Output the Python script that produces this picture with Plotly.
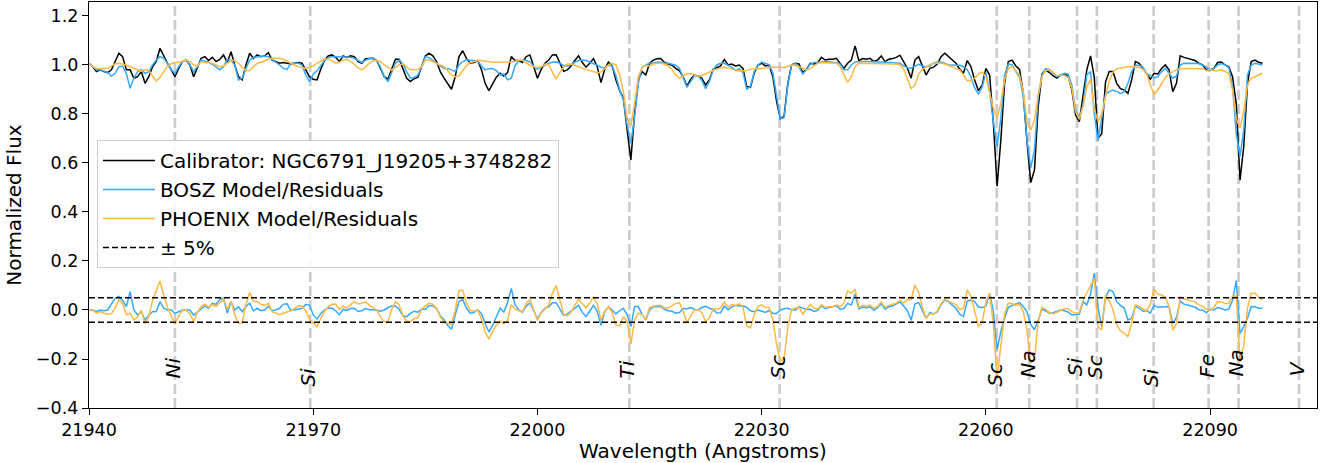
import numpy as np
import plotly.graph_objects as go

# ---------------- data ----------------
WAVE_START = 21940.0   # Angstrom, first sample
WAVE_STEP = 0.5        # Angstrom per sample

calibrator = [
    1.007, 0.993, 0.973, 0.980, 0.973, 0.969, 0.980, 1.014, 1.048, 1.034,
    0.980, 0.980, 0.946, 0.952, 0.973, 0.925, 0.952, 0.993, 1.014, 1.068,
    1.034, 1.007, 0.980, 0.952, 0.986, 1.014, 1.020, 1.000, 0.952, 0.986,
    1.027, 1.034, 1.018, 1.031, 1.014, 1.023, 1.041, 1.010, 1.054, 1.000,
    0.952, 0.939, 1.000, 1.048, 1.027, 1.041, 1.034, 1.037, 1.050, 1.020,
    1.014, 1.007, 1.010, 1.007, 1.004, 1.007, 1.010, 1.007, 0.982, 0.952,
    0.942, 0.939, 0.982, 1.018, 1.037, 1.041, 1.031, 1.014, 1.037, 1.031,
    1.037, 1.034, 1.014, 1.007, 1.025, 1.027, 1.027, 1.018, 0.986, 0.952,
    0.942, 0.982, 1.023, 1.023, 0.980, 0.946, 0.932, 0.944, 0.950, 0.996,
    1.037, 1.048, 1.037, 1.014, 0.973, 0.946, 0.923, 0.901, 0.952, 1.034,
    1.058, 1.027, 1.007, 1.010, 1.018, 0.982, 0.925, 0.895, 0.923, 0.950,
    0.966, 0.955, 0.969, 1.034, 1.018, 1.018, 1.010, 1.034, 1.041, 0.993,
    0.946, 0.982, 1.007, 1.020, 1.041, 1.042, 1.010, 0.974, 0.980, 0.996,
    1.018, 1.037, 1.010, 0.991, 1.007, 1.026, 0.993, 0.928, 0.982, 1.012,
    0.996, 0.939, 0.895, 0.864, 0.735, 0.612, 0.803, 0.939, 0.973, 0.959,
    1.007, 1.020, 1.025, 1.026, 1.010, 1.004, 0.999, 0.986, 0.976, 0.952,
    0.914, 0.942, 0.959, 0.955, 0.946, 0.918, 0.939, 0.982, 0.988, 0.996,
    1.023, 1.000, 1.004, 0.996, 1.000, 0.986, 0.912, 0.909, 0.966, 1.000,
    1.007, 0.996, 0.999, 0.952, 0.850, 0.780, 0.790, 0.925, 1.001, 1.007,
    1.004, 0.969, 0.982, 1.007, 1.004, 1.010, 1.031, 1.020, 1.023, 1.023,
    1.027, 1.007, 0.986, 1.007, 1.020, 1.078, 1.018, 1.026, 1.023, 1.027,
    1.014, 1.020, 1.037, 1.014, 1.023, 1.026, 1.031, 1.040, 1.012, 0.986,
    0.946, 1.020, 1.034, 0.993, 0.959, 0.986, 0.991, 1.004, 1.034, 1.048,
    1.034, 1.020, 1.007, 0.982, 0.966, 1.018, 0.993, 0.939, 0.895, 0.918,
    0.986, 0.959, 0.762, 0.505, 0.694, 0.925, 1.014, 1.020, 0.996, 0.982,
    0.885, 0.687, 0.520, 0.572, 0.830, 0.963, 0.980, 0.969, 0.955, 0.946,
    0.959, 0.963, 0.955, 0.898, 0.796, 0.769, 0.871, 0.980, 1.037, 0.950,
    0.700, 0.720, 0.930, 0.973, 0.973, 0.925, 0.903, 0.898, 0.884, 0.939,
    1.014, 1.007, 0.986, 0.963, 0.942, 0.966, 0.963, 0.986, 1.000, 0.980,
    0.891, 0.925, 1.037, 1.031, 1.027, 1.024, 1.018, 1.007, 1.000, 0.980,
    0.980, 0.986, 1.010, 1.012, 1.000, 0.993, 0.952, 0.840, 0.530, 0.667,
    0.925, 1.014, 1.020, 1.011, 1.007,
]

bosz_model = [
    1.007, 0.993, 0.980, 0.980, 0.976, 0.969, 0.955, 0.966, 0.993, 0.995,
    0.966, 0.905, 0.946, 0.973, 0.980, 0.966, 0.973, 1.000, 1.020, 1.034,
    1.027, 1.007, 0.980, 0.966, 0.993, 1.014, 1.020, 1.000, 0.973, 0.993,
    1.020, 1.017, 1.011, 1.003, 0.991, 0.980, 0.993, 1.023, 1.020, 1.000,
    0.939, 0.946, 0.986, 1.020, 1.031, 1.034, 1.037, 1.037, 1.034, 1.023,
    1.014, 1.000, 0.986, 0.982, 1.007, 1.007, 1.007, 1.000, 0.959, 0.932,
    0.962, 0.976, 0.997, 1.018, 1.029, 1.034, 1.034, 1.034, 1.034, 1.033,
    1.031, 1.027, 1.020, 1.010, 1.019, 1.026, 1.026, 1.018, 0.991, 0.952,
    0.932, 0.966, 1.007, 1.020, 1.004, 0.973, 0.946, 0.949, 0.959, 0.993,
    1.034, 1.030, 1.020, 1.007, 0.996, 0.986, 0.986, 0.980, 0.973, 1.000,
    1.014, 1.020, 1.020, 1.020, 1.017, 0.996, 0.980, 0.985, 0.986, 0.977,
    0.959, 0.963, 0.939, 0.946, 0.996, 1.018, 1.020, 1.018, 1.012, 0.996,
    0.982, 0.991, 1.000, 1.007, 1.011, 1.012, 1.007, 0.996, 0.996, 1.001,
    1.011, 1.018, 1.020, 1.018, 1.012, 1.007, 0.999, 0.991, 0.988, 0.999,
    0.996, 0.955, 0.898, 0.857, 0.755, 0.680, 0.789, 0.925, 0.991, 1.000,
    1.007, 1.007, 1.012, 1.011, 1.007, 1.007, 1.004, 0.999, 0.986, 0.946,
    0.909, 0.932, 0.956, 0.955, 0.936, 0.903, 0.932, 0.980, 1.000, 1.007,
    1.007, 0.999, 0.991, 0.977, 0.984, 0.969, 0.901, 0.912, 0.973, 1.000,
    1.012, 1.006, 1.001, 0.966, 0.864, 0.780, 0.785, 0.918, 1.000, 1.007,
    0.991, 0.963, 0.980, 1.004, 1.010, 1.011, 1.014, 1.014, 1.014, 1.011,
    1.010, 1.004, 0.980, 0.980, 1.000, 1.012, 1.014, 1.014, 1.014, 1.014,
    1.014, 1.011, 1.011, 1.011, 1.010, 1.010, 1.008, 1.007, 0.996, 0.989,
    0.988, 0.996, 1.003, 0.996, 0.993, 0.996, 1.007, 1.012, 1.012, 1.007,
    1.000, 1.000, 1.000, 0.999, 0.993, 0.982, 0.952, 0.905, 0.882, 0.909,
    0.970, 0.891, 0.769, 0.667, 0.782, 0.959, 1.004, 1.001, 0.973, 0.952,
    0.871, 0.694, 0.580, 0.653, 0.871, 0.959, 0.984, 0.982, 0.966, 0.952,
    0.959, 0.966, 0.963, 0.918, 0.816, 0.786, 0.837, 0.959, 0.973, 0.800,
    0.690, 0.790, 0.880, 0.891, 0.898, 0.891, 0.884, 0.890, 0.925, 0.973,
    0.999, 0.999, 0.991, 0.966, 0.955, 0.947, 0.952, 0.973, 0.986, 0.966,
    0.946, 0.955, 1.000, 1.007, 1.007, 1.007, 1.007, 1.006, 1.000, 0.991,
    0.977, 0.986, 1.000, 1.006, 1.000, 0.989, 0.912, 0.720, 0.626, 0.735,
    0.959, 1.000, 1.007, 1.004, 1.000,
]

phoenix_model = [
    1.007, 0.993, 0.986, 0.986, 0.986, 0.986, 0.995, 1.005, 1.007, 1.005,
    1.000, 0.993, 0.986, 0.980, 0.975, 0.980, 0.978, 0.955, 0.935, 0.950,
    0.975, 0.995, 1.005, 1.010, 1.010, 1.015, 1.020, 1.015, 1.000, 0.995,
    1.014, 1.010, 1.007, 1.007, 1.000, 0.993, 0.996, 1.007, 1.018, 1.018,
    1.007, 0.991, 0.977, 0.977, 0.991, 1.007, 1.011, 1.018, 1.023, 1.027,
    1.027, 1.026, 1.023, 1.014, 1.007, 1.000, 0.993, 0.991, 0.986, 0.991,
    0.996, 1.007, 1.016, 1.024, 1.024, 1.018, 1.007, 1.011, 1.020, 1.023,
    1.015, 1.000, 0.989, 0.980, 0.991, 1.007, 1.016, 1.019, 1.014, 1.000,
    0.989, 0.980, 0.989, 1.001, 1.004, 0.991, 0.980, 0.980, 0.982, 0.993,
    1.020, 1.020, 1.014, 1.007, 1.001, 0.993, 0.977, 0.959, 0.952, 0.955,
    0.977, 0.997, 1.009, 1.015, 1.018, 1.018, 1.015, 1.014, 1.011, 1.011,
    1.011, 1.011, 1.011, 1.012, 1.015, 1.020, 1.018, 1.007, 0.999, 0.993,
    0.989, 0.993, 1.004, 1.001, 0.973, 0.942, 0.969, 0.991, 1.004, 1.004,
    0.999, 0.993, 0.985, 0.981, 0.978, 0.973, 0.967, 0.971, 0.986, 1.000,
    1.007, 1.001, 0.959, 0.891, 0.782, 0.751, 0.844, 0.952, 0.991, 0.999,
    0.996, 1.004, 1.007, 1.007, 1.003, 0.996, 0.982, 0.959, 0.946, 0.957,
    0.965, 0.965, 0.959, 0.954, 0.957, 0.965, 0.971, 0.978, 0.984, 0.988,
    0.991, 0.988, 0.982, 0.978, 0.974, 0.974, 0.977, 0.982, 0.985, 0.986,
    0.986, 0.986, 0.989, 0.992, 0.991, 0.988, 0.989, 0.995, 1.000, 0.999,
    0.993, 0.986, 0.981, 0.984, 0.996, 1.007, 1.010, 1.010, 1.010, 1.010,
    1.007, 0.993, 0.959, 0.929, 0.952, 0.993, 1.007, 1.007, 1.007, 1.007,
    1.007, 1.006, 1.004, 1.004, 1.004, 1.004, 1.003, 1.001, 0.984, 0.942,
    0.903, 0.918, 0.963, 0.982, 0.993, 1.001, 1.007, 1.008, 1.008, 1.004,
    0.999, 0.992, 0.984, 0.980, 0.959, 0.936, 0.936, 0.946, 0.962, 0.971,
    0.952, 0.891, 0.823, 0.782, 0.844, 0.939, 0.986, 0.993, 0.977, 0.959,
    0.891, 0.769, 0.735, 0.776, 0.878, 0.952, 0.977, 0.980, 0.971, 0.955,
    0.958, 0.958, 0.950, 0.905, 0.810, 0.778, 0.830, 0.912, 0.939, 0.820,
    0.770, 0.800, 0.870, 0.936, 0.970, 0.984, 0.988, 0.991, 0.993, 0.993,
    0.993, 0.991, 0.982, 0.966, 0.918, 0.880, 0.898, 0.925, 0.948, 0.965,
    0.973, 0.980, 0.984, 0.986, 0.986, 0.986, 0.986, 0.986, 0.985, 0.977,
    0.982, 0.976, 0.976, 0.980, 0.973, 0.966, 0.898, 0.782, 0.742, 0.810,
    0.918, 0.946, 0.952, 0.959, 0.966,
]

line_wavelengths = [21951.5, 21969.6, 22012.3, 22032.4, 22061.45, 22065.8,
                    22072.2, 22074.85, 22082.45, 22089.8, 22093.8, 22101.9]
line_labels = ["Ni", "Si", "Ti", "Sc", "Sc", "Na", "Si", "Sc", "Si", "Fe", "Na", "V"]
label_bottoms = [-0.286, -0.322, -0.286, -0.29, -0.322, -0.286,
                 -0.28, -0.29, -0.322, -0.286, -0.28, -0.28]

tolerance = 0.05
x_ticks = [21940, 21970, 22000, 22030, 22060, 22090]
y_ticks = [-0.4, -0.2, 0.0, 0.2, 0.4, 0.6, 0.8, 1.0, 1.2]

# ---------------- derived ----------------
cal = np.array(calibrator)
bosz = np.array(bosz_model)
phx = np.array(phoenix_model)
wave = WAVE_START + WAVE_STEP * np.arange(len(cal))
bosz_res = cal - bosz
phx_res = cal - phx

BLACK = "#000000"
BLUE = "#33aaff"
ORANGE = "#ffb942"
FONT = "DejaVu Sans"
TICK_SIZE = 17.5
TEXT_SIZE = 20

fig = go.Figure()
fig.add_trace(go.Scatter(x=wave, y=cal, mode="lines", name="Calibrator: NGC6791_J19205+3748282",
                         line=dict(color=BLACK, width=1.5), legendgroup="a"))
fig.add_trace(go.Scatter(x=wave, y=bosz, mode="lines", name="BOSZ Model/Residuals",
                         line=dict(color=BLUE, width=1.5), legendgroup="b"))
fig.add_trace(go.Scatter(x=wave, y=phx, mode="lines", name="PHOENIX Model/Residuals",
                         line=dict(color=ORANGE, width=1.5), legendgroup="c"))
fig.add_trace(go.Scatter(x=wave, y=bosz_res, mode="lines", showlegend=False,
                         line=dict(color=BLUE, width=1.5), legendgroup="b"))
fig.add_trace(go.Scatter(x=wave, y=phx_res, mode="lines", showlegend=False,
                         line=dict(color=ORANGE, width=1.5), legendgroup="c"))
fig.add_trace(go.Scatter(x=[None], y=[None], mode="lines", name="\u00b1 5%",
                         line=dict(color=BLACK, width=1.5, dash="6px,3px"), legendgroup="d"))

shapes = []
for lw in line_wavelengths:
    shapes.append(dict(type="line", xref="x", yref="paper", x0=lw, x1=lw, y0=0, y1=1,
                       line=dict(color="rgba(170,170,170,0.6)", width=2.7, dash="10px,4px"),
                       layer="below"))
for yv in (tolerance, -tolerance):
    shapes.append(dict(type="line", xref="paper", yref="y", x0=0, x1=1, y0=yv, y1=yv,
                       line=dict(color=BLACK, width=1.5, dash="6px,3px")))

annotations = []
for lw, lab, yb in zip(line_wavelengths, line_labels, label_bottoms):
    annotations.append(dict(x=lw, y=yb, xref="x", yref="y", text=f"<i>{lab}</i>",
                            textangle=-90, showarrow=False, xanchor="center", yanchor="bottom",
                            xshift=-2, font=dict(family=FONT, size=TEXT_SIZE, color=BLACK)))

fig.update_layout(
    width=1328, height=463,
    margin=dict(l=89, r=11, t=2, b=55),
    paper_bgcolor="white", plot_bgcolor="white",
    font=dict(family=FONT, size=TEXT_SIZE, color=BLACK),
    shapes=shapes, annotations=annotations,
    showlegend=True,
    legend=dict(x=0.0065, y=0.66, xanchor="left", yanchor="top",
                bgcolor="rgba(255,255,255,0.85)", bordercolor="#cccccc", borderwidth=1,
                font=dict(family=FONT, size=TEXT_SIZE, color=BLACK), tracegroupgap=0,
                itemwidth=52),
    xaxis=dict(range=[21940, 22104.3], tickvals=x_ticks, ticktext=[str(t) for t in x_ticks],
               tickfont=dict(family=FONT, size=TICK_SIZE),
               showgrid=False, zeroline=False, showline=True, mirror=True,
               linecolor=BLACK, linewidth=1.3, ticks="outside", ticklen=6, tickwidth=1.3,
               tickcolor=BLACK, title=dict(text="Wavelength (Angstroms)", standoff=2,
                                           font=dict(family=FONT, size=TEXT_SIZE))),
    yaxis=dict(range=[-0.4, 1.257], tickvals=y_ticks, tickformat=".1f",
               tickfont=dict(family=FONT, size=TICK_SIZE),
               showgrid=False, zeroline=False, showline=True, mirror=True,
               linecolor=BLACK, linewidth=1.3, ticks="outside", ticklen=6, tickwidth=1.3,
               tickcolor=BLACK, title=dict(text="Normalized Flux", standoff=8,
                                           font=dict(family=FONT, size=TEXT_SIZE))),
)

fig.write_html("out.html")
